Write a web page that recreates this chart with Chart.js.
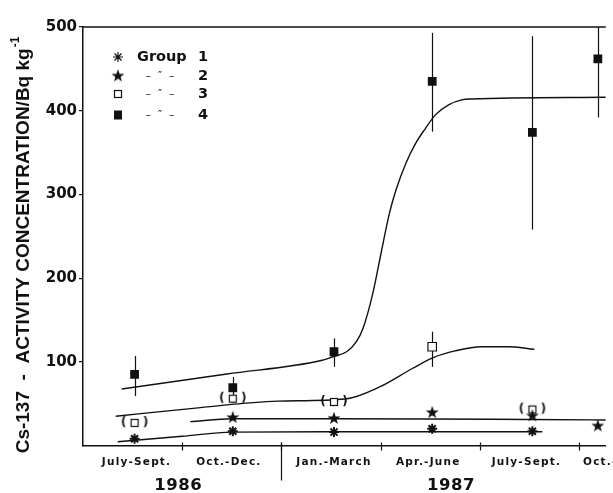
<!DOCTYPE html>
<html><head><meta charset="utf-8">
<script src="https://cdn.jsdelivr.net/npm/chart.js@4/dist/chart.umd.min.js"></script>
<style>html,body{margin:0;padding:0;background:#fff;}#wrap{width:613px;height:493px;position:relative;}</style>
</head><body><div id="wrap"><canvas id="c" width="613" height="493"></canvas></div>
<script>
// ---- categories / ticks ----
const quarterLabels = ['July-Sept.','Oct.-Dec.','Jan.-March','Apr.-June','July-Sept.','Oct.-Dec.'];
const labelPos = [0.54,1.47,2.53,3.48,4.47,5.37];
const quarterBounds = [1,2,3,4,5];
const yearDivider = 2;
const years = ['1986','1987'];
const yearPos = [0.96,3.71];
const yTicks = [100,200,300,400,500];
const samplePos = [0.52,1.51,2.53,3.52,4.53,5.19];

// ---- measured values (Bq/kg) ----
const group1 = [8,17,16,20,17,null];
const group2 = [null,34,33,40,36,24];
const group3 = [27,56,52,118,43,null];
const group3Bracketed = [true,true,true,false,true,false];
const group3Low  = [null,null,null,94,null,null];
const group3High = [null,null,null,136,null,null];
const group4 = [85,69,112,435,374,462];
const group4Low  = [59,51,94,375,258,392];
const group4High = [107,82,128,493,489,520];

// ---- fitted curves ----
const fit1X = [0.35,1.0,1.5,2.5,3.5,4.63];
const fit1Y = [4.5,11,16,16.5,16.5,16.5];
const fit2X = [1.08,1.51,2.5,3.5,4.5,5.27];
const fit2Y = [28.5,32,32,31.7,31,30.5];
const fit3X = [0.33,1.16,1.96,2.64,2.99,3.32,3.53,3.75,4.02,4.28,4.55];
const fit3Y = [35,45,53,55.5,70,92,105,113,118,118,115];
const fit4X = [0.39,1.45,2.40,2.517,2.657,2.756,2.823,2.922,3.005,3.088,3.154,3.254,3.353,3.453,3.552,3.685,3.818,3.917,5.27];
const fit4Y = [67.5,85.5,101.5,106,112,124,140,182,230,277,305,337,361,379,395,407,413,414,416];

const INK = '#111';

function starImg(){
  const c=document.createElement('canvas');c.width=14;c.height=14;
  const g=c.getContext('2d');g.fillStyle=INK;g.beginPath();
  for(let i=0;i<10;i++){const r=i%2?2.7:6.8;const a=-Math.PI/2+i*Math.PI/5;g.lineTo(7+r*Math.cos(a),7.6+r*Math.sin(a));}
  g.closePath();g.fill();return c;
}
function bracketImg(){
  const c=document.createElement('canvas');c.width=30;c.height=16;
  const g=c.getContext('2d');g.fillStyle=INK;g.strokeStyle=INK;
  g.font='bold 12px "DejaVu Sans"';g.textAlign='center';g.textBaseline='middle';
  g.fillText('(',4,8);g.fillText(')',26,8);
  g.fillStyle='#fff';g.fillRect(11.5,4.5,7,7);g.lineWidth=1.2;g.strokeRect(11.5,4.5,7,7);
  return c;
}
const STAR = starImg();
const BRK = bracketImg();

function pts(arr){const o=[];arr.forEach((v,i)=>{if(v!==null)o.push({x:samplePos[i],y:v});});return o;}
function curve(xs,ys){return xs.map((x,i)=>({x:x,y:ys[i]}));}
const g3Styles = group3.map((v,i)=>group3Bracketed[i]?BRK:'rect').filter((s,i)=>group3[i]!==null);

const decor = {
  id:'decor',
  beforeDatasetsDraw(chart){
    const {ctx,scales:{x,y}}=chart;
    ctx.save();ctx.strokeStyle=INK;ctx.lineWidth=1.2;
    const bars=(lo,hi)=>lo.forEach((l,i)=>{if(l===null)return;const px=Math.round(x.getPixelForValue(samplePos[i]))+0.5;
      ctx.beginPath();ctx.moveTo(px,y.getPixelForValue(l));ctx.lineTo(px,y.getPixelForValue(Math.min(hi[i],500)));ctx.stroke();});
    bars(group4Low,group4High);bars(group3Low,group3High);
    ctx.restore();
  },
  afterDraw(chart){
    const {ctx,chartArea:a,scales:{x,y}}=chart;
    ctx.save();
    ctx.strokeStyle=INK;ctx.fillStyle=INK;
    // top frame line
    ctx.lineWidth=1.3;ctx.beginPath();ctx.moveTo(a.left,a.top);ctx.lineTo(a.right,a.top);ctx.stroke();
    // x tick marks
    ctx.lineWidth=1.2;
    quarterBounds.forEach(b=>{const px=Math.round(x.getPixelForValue(b))+0.5;ctx.beginPath();ctx.moveTo(px,a.bottom-3);ctx.lineTo(px,a.bottom+5);ctx.stroke();});
    const dv=Math.round(x.getPixelForValue(yearDivider))+0.5;
    ctx.beginPath();ctx.moveTo(dv,a.bottom-3);ctx.lineTo(dv,a.bottom+35);ctx.stroke();
    // x labels
    ctx.font='bold 10.5px "DejaVu Sans"';ctx.textAlign='center';ctx.textBaseline='middle';
    try{ctx.letterSpacing='1.2px';}catch(e){}
    quarterLabels.forEach((t,i)=>ctx.fillText(t,x.getPixelForValue(labelPos[i]),462));
    ctx.font='bold 16.5px "DejaVu Sans"';
    try{ctx.letterSpacing='0.5px';}catch(e){}
    years.forEach((t,i)=>ctx.fillText(t,x.getPixelForValue(yearPos[i]),486));
    try{ctx.letterSpacing='0px';}catch(e){}
    // y title
    ctx.save();ctx.translate(24,245);ctx.rotate(-Math.PI/2);
    const main='Cs-137  -  ACTIVITY CONCENTRATION/Bq kg';
    ctx.font='bold 19px "Liberation Sans"';
    const wMain=ctx.measureText(main).width;
    ctx.font='bold 12px "Liberation Sans"';
    const wSup=ctx.measureText('-1').width;
    const start=-(wMain+wSup+1)/2;
    ctx.textAlign='left';ctx.textBaseline='middle';
    ctx.font='bold 19px "Liberation Sans"';ctx.fillText(main,start,0);
    ctx.font='bold 12px "Liberation Sans"';ctx.fillText('-1',start+wMain+1,-8);
    ctx.restore();
    // legend
    const rows=[57,76,94,115], mx=118;
    Chart.helpers.drawPoint(ctx,{pointStyle:'star',radius:5,rotation:0,borderWidth:2},mx,rows[0]);
    ctx.drawImage(STAR,mx-7,rows[1]-7.6);
    ctx.fillStyle='#fff';ctx.fillRect(mx-3.5,rows[2]-3.5,7,7);ctx.lineWidth=1.2;ctx.strokeRect(mx-3.5,rows[2]-3.5,7,7);
    ctx.fillStyle=INK;ctx.fillRect(mx-4,rows[3]-4.5,8,9);
    ctx.textBaseline='middle';
    ctx.font='bold 14.5px "DejaVu Sans"';ctx.textAlign='left';ctx.fillText('Group',137,rows[0]);
    ctx.textAlign='center';
    ['1','2','3','4'].forEach((t,i)=>ctx.fillText(t,203,rows[i]));
    ctx.font='11px "DejaVu Sans"';
    for(let i=1;i<4;i++)ctx.fillText('\u2013  \u2033  \u2013',160,rows[i]);
    ctx.restore();
  }
};

new Chart(document.getElementById('c'),{
  type:'scatter',
  data:{datasets:[
    {label:'Group 1',data:pts(group1),pointStyle:'star',pointRadius:5,borderWidth:2,borderColor:INK,backgroundColor:INK,showLine:false},
    {label:'Group 2',data:pts(group2),pointStyle:STAR,borderColor:INK,backgroundColor:INK,showLine:false},
    {label:'Group 3',data:pts(group3),pointStyle:g3Styles,pointRadius:6,borderWidth:1.2,borderColor:INK,backgroundColor:'#fff',showLine:false},
    {label:'Group 4',data:pts(group4),pointStyle:'rect',pointRadius:6.2,borderWidth:0,borderColor:INK,backgroundColor:INK,showLine:false},
    {label:'fit1',data:curve(fit1X,fit1Y),showLine:true,pointRadius:0,borderColor:INK,borderWidth:1.4,cubicInterpolationMode:'monotone'},
    {label:'fit2',data:curve(fit2X,fit2Y),showLine:true,pointRadius:0,borderColor:INK,borderWidth:1.4,cubicInterpolationMode:'monotone'},
    {label:'fit3',data:curve(fit3X,fit3Y),showLine:true,pointRadius:0,borderColor:INK,borderWidth:1.4,cubicInterpolationMode:'monotone'},
    {label:'fit4',data:curve(fit4X,fit4Y),showLine:true,pointRadius:0,borderColor:INK,borderWidth:1.4,cubicInterpolationMode:'monotone'}
  ]},
  options:{
    responsive:false,animation:false,devicePixelRatio:1,
    layout:{padding:{top:27,left:0,right:0,bottom:0}},
    plugins:{legend:{display:false},tooltip:{enabled:false}},
    scales:{
      x:{type:'linear',min:0,max:5.27,ticks:{display:false},grid:{display:false},
         border:{display:true,color:INK,width:1.5},
         afterFit:s=>{s.height=47.5;}},
      y:{type:'linear',min:0,max:500,
         afterBuildTicks:s=>{s.ticks=[0].concat(yTicks).map(v=>({value:v}));},
         ticks:{callback:v=>v===0?'':String(v),color:INK,padding:2,font:{family:'DejaVu Sans',weight:'bold',size:15}},
         grid:{drawOnChartArea:false,drawTicks:true,tickLength:4,color:c=>c.tick&&c.tick.value===0?'rgba(0,0,0,0)':INK,lineWidth:1.2},
         border:{display:true,color:INK,width:1.5},
         afterFit:s=>{s.width=83;}}
    }
  },
  plugins:[decor]
});
</script></body></html>
